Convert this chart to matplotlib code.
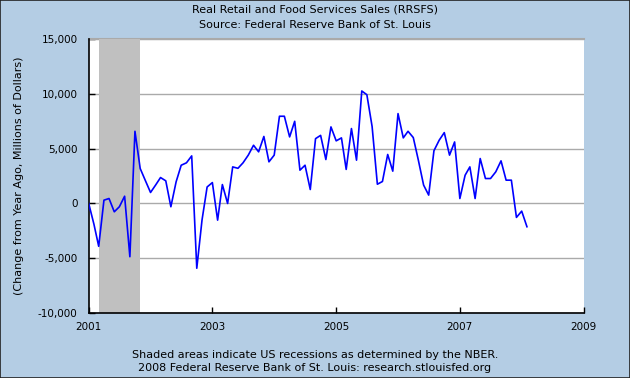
import numpy as np
import pandas as pd
import matplotlib
matplotlib.use("Agg")
import matplotlib.pyplot as plt
import matplotlib.dates as mdates

# year-over-year change in real retail sales, millions of dollars (monthly)
values = [
    # 2001
    0, -1900, -3900, 300, 450, -760, -300, 660, -4850, 6570, 3180, 2100,
    # 2002
    1000, 1700, 2360, 2060, -300, 1970, 3480, 3700, 4330, -5900, -1500, 1500,
    # 2003
    1900, -1520, 1720, 0, 3330, 3200, 3700, 4400, 5300, 4700, 6100, 3790,
    # 2004
    4400, 7940, 7940, 6060, 7480, 3030, 3480, 1270, 5900, 6200, 4000, 6970,
    # 2005
    5700, 5970, 3100, 6820, 3940, 10240, 9900, 7000, 1750, 2000, 4460, 2940,
    # 2006
    8180, 5970, 6570, 6000, 3940, 1670, 760, 4800, 5760, 6450, 4400, 5600,
    # 2007
    450, 2570, 3330, 450, 4090, 2270, 2270, 2880, 3880, 2120, 2120, -1270,
    # 2008
    -700, -2120,
]
dates = pd.date_range("2001-01-01", periods=len(values), freq="MS")

recessions = [("2001-03-01", "2001-11-01")]
year_ticks = ["2001", "2003", "2005", "2007", "2009"]
y_ticks = [-10000, -5000, 0, 5000, 10000, 15000]

bg = "#B4CDE4"
fig = plt.figure(figsize=(6.3, 3.78), dpi=100, facecolor=bg)
ax = fig.add_axes([0.1408, 0.1712, 0.7857, 0.7264])
ax.set_facecolor("white")

for start, end in recessions:
    ax.axvspan(pd.Timestamp(start), pd.Timestamp(end), color="#C0C0C0", lw=0, zorder=2)

ax.plot(dates, values, color="#0000FF", lw=1.2, zorder=3)

ax.set_xlim(pd.Timestamp("2001-01-01"), pd.Timestamp("2009-01-01"))
ax.set_ylim(-10000, 15000)
ax.set_xticks([pd.Timestamp(y + "-01-01") for y in year_ticks])
ax.xaxis.set_major_formatter(mdates.DateFormatter("%Y"))
ax.set_yticks(y_ticks)
ax.set_yticklabels([f"{v:,}" for v in y_ticks])

ax.yaxis.grid(True, color="#AAAAAA", lw=1, zorder=1)
ax.set_axisbelow(True)
ax.tick_params(direction="in", length=4, width=1, labelsize=7.5, colors="black", pad=6)
ax.tick_params(axis="y", pad=8)

for side in ["top", "right"]:
    ax.spines[side].set_visible(False)
ax.spines["left"].set_linewidth(1.2)
ax.spines["bottom"].set_linewidth(1.2)
ax.axhline(15000, color="#AAAAAA", lw=1.5, zorder=1, clip_on=False)

ax.set_ylabel("(Change from Year Ago, Millions of Dollars)", fontsize=8, labelpad=10)

fig.text(0.5, 0.974, "Real Retail and Food Services Sales (RRSFS)", ha="center", va="center", fontsize=8)
fig.text(0.5, 0.934, "Source: Federal Reserve Bank of St. Louis", ha="center", va="center", fontsize=8)
fig.text(0.5, 0.061, "Shaded areas indicate US recessions as determined by the NBER.", ha="center", va="center", fontsize=8)
fig.text(0.5, 0.026, "2008 Federal Reserve Bank of St. Louis: research.stlouisfed.org", ha="center", va="center", fontsize=8)

# thin dark frame round the whole picture
fig.patches.append(plt.Rectangle((0, 0), 1, 1, transform=fig.transFigure, fill=False,
                                 edgecolor="#222222", lw=1.2))

fig.savefig("out.png", dpi=100, facecolor=bg)
